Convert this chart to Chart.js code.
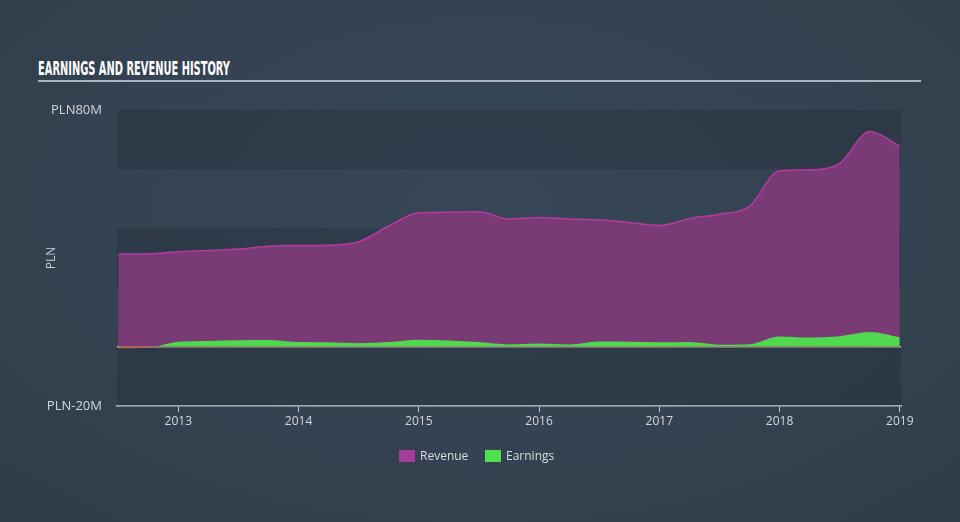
<!DOCTYPE html>
<html>
<head>
<meta charset="utf-8">
<script src="https://cdn.jsdelivr.net/npm/chart.js@4.4.1/dist/chart.umd.min.js"></script>
<style>
  html, body { margin:0; padding:0; }
  body {
    width:960px; height:522px; overflow:hidden; position:relative;
    background: radial-gradient(ellipse 70% 75% at 50% 40%, #374656 0%, #344251 60%, #313d4a 100%);
    font-family: "Open Sans", sans-serif;
  }
  #title {
    position:absolute; left:38px; top:58px; color:#ffffff;
    font-family:"Liberation Sans Narrow", "DejaVu Sans Condensed", sans-serif;
    font-weight:bold; font-size:19px; line-height:20px; white-space:nowrap;
    transform-origin:0 0; letter-spacing:0px;
  }
  #rule { position:absolute; left:38px; top:80px; width:883px; height:2px; background:#a9b3bd; }
  #wrap { position:absolute; left:0; top:0; width:960px; height:522px; }
  #legend { position:absolute; top:450px; left:399px; font-size:12px; color:#d8dde2; white-space:nowrap; }
  .item { position:absolute; top:0; height:13px; line-height:13px; }
  .box { position:absolute; top:0; width:16px; height:12px; }
  .lbl { position:absolute; top:-1px; }
</style>
</head>
<body>
<div id="title">EARNINGS AND REVENUE HISTORY</div>
<div id="rule"></div>
<div id="wrap"><canvas id="c" width="960" height="522"></canvas></div>
<div id="legend"></div>
<script>
// ---- data ----
const quarters = [2012.5, 2012.75, 2013.0, 2013.25, 2013.5, 2013.75, 2014.0, 2014.25, 2014.5, 2014.75,
                  2015.0, 2015.25, 2015.5, 2015.75, 2016.0, 2016.25, 2016.5, 2016.75, 2017.0, 2017.25,
                  2017.5, 2017.75, 2018.0, 2018.25, 2018.5, 2018.75, 2019.0];
const revenue  = [31.3, 31.4, 32.1, 32.5, 33.0, 34.0, 34.2, 34.3, 35.5, 40.8,
                  45.3, 45.5, 45.6, 43.2, 43.7, 43.2, 42.8, 42.0, 41.0, 43.3,
                  44.8, 47.5, 59.5, 59.8, 62.0, 72.7, 67.8];
const earnings = [-0.5, -0.3, 1.7, 2.0, 2.2, 2.3, 1.6, 1.5, 1.2, 1.6,
                  2.4, 2.1, 1.6, 0.8, 1.1, 0.8, 1.8, 1.7, 1.5, 1.6,
                  0.7, 0.9, 3.5, 3.1, 3.6, 5.0, 3.2];
const xTicks = [2013, 2014, 2015, 2016, 2017, 2018, 2019];
const yTickLabels = { "80": "PLN80M", "-20": "PLN-20M" };
const seriesNames = ["Revenue", "Earnings"];
const seriesColors = ["#a43c9b", "#4fe04f"];

// title fit
const t = document.getElementById('title');
t.style.transform = 'scaleX(' + (192 / t.getBoundingClientRect().width) + ')';

// legend
const lg = document.getElementById('legend');
const offs = [0, 86];
seriesNames.forEach((n, i) => {
  const d = document.createElement('div');
  d.className = 'item'; d.style.left = offs[i] + 'px';
  d.innerHTML = '<div class="box" style="background:' + seriesColors[i] + '"></div><div class="lbl" style="left:21px">' + n + '</div>';
  lg.appendChild(d);
});

const bands = {
  id: 'bands',
  beforeDatasetsDraw(chart) {
    const { ctx, chartArea: a, scales: { y } } = chart;
    const ranges = [[60, 80, 'rgba(18,26,36,0.2)'], [20, 40, 'rgba(18,26,36,0.2)'], [-20, 0, 'rgba(18,26,36,0.2)']];
    ctx.save();
    ranges.forEach(([lo, hi, c]) => {
      const top = y.getPixelForValue(hi), bot = y.getPixelForValue(lo);
      ctx.fillStyle = c;
      ctx.fillRect(a.left, top, a.right - a.left, bot - top);
    });
    ctx.restore();
  }
};

const toPts = arr => arr.map((v, i) => ({ x: quarters[i], y: v }));

new Chart(document.getElementById('c'), {
  type: 'line',
  data: {
    datasets: [
      { label: seriesNames[0], data: toPts(revenue), order: 2,
        borderColor: '#b43ba2', borderWidth: 1.5, backgroundColor: '#7a3a76',
        fill: 'origin', pointRadius: 0, cubicInterpolationMode: 'monotone' },
      { label: seriesNames[1], data: toPts(earnings), order: 1,
        borderColor: 'rgba(0,0,0,0)', borderWidth: 0,
        fill: { target: 'origin', above: '#50d94f', below: '#d9583a' },
        pointRadius: 0, cubicInterpolationMode: 'monotone' }
    ]
  },
  options: {
    responsive: false, animation: false, events: [],
    layout: { padding: { left: 44, top: 110, right: 59, bottom: 86 } },
    plugins: { legend: { display: false }, tooltip: { enabled: false } },
    scales: {
      x: {
        type: 'linear', min: 2012.49, max: 2019.01,
        afterBuildTicks: s => { s.ticks = xTicks.map(v => ({ value: v })); },
        afterFit: s => { s.height = 30; },
        ticks: { autoSkip: false, maxRotation: 0, padding: 2, color: '#d3d8dd',
                 font: { family: 'Open Sans', size: 12 }, callback: v => String(v) },
        grid: { drawOnChartArea: false, drawTicks: true, tickLength: 6, color: '#c3cad1', lineWidth: 1 },
        border: { display: true, color: '#c3cad1', width: 1.5 }
      },
      y: {
        min: -20, max: 80, z: 1,
        afterFit: s => { s.width = 73; },
        ticks: { stepSize: 20, autoSkip: false, padding: 15, color: '#d3d8dd',
                 font: { family: 'Open Sans', size: 13 },
                 callback: v => yTickLabels[String(v)] || '' },
        grid: { drawTicks: false, lineWidth: 1.5,
                color: c => (c.tick && c.tick.value === 0) ? '#e2d8c6' : 'rgba(0,0,0,0)' },
        border: { display: false },
        title: { display: true, text: 'PLN', color: '#c8cdd2', padding: 0,
                 font: { family: 'Open Sans', size: 12 } }
      }
    }
  },
  plugins: [bands]
});
</script>
</body>
</html>
